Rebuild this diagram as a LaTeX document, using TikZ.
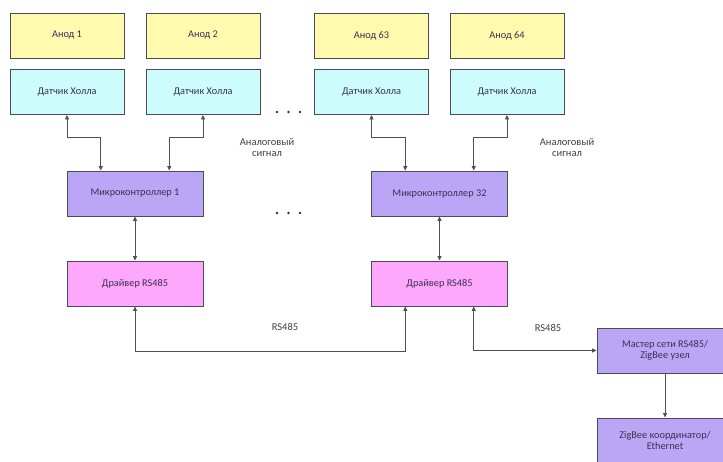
\documentclass[tikz,border=0pt]{standalone}
\usepackage{fontspec}
\setmainfont{Carlito}
\usetikzlibrary{arrows.meta,calc}
\definecolor{anodefill}{HTML}{FFFAAE}
\definecolor{hallfill}{HTML}{CCFCFC}
\definecolor{mcfill}{HTML}{BBA6F6}
\definecolor{drvfill}{HTML}{FDA8FC}
\definecolor{edgecol}{HTML}{4A4A58}
\definecolor{wirecol}{HTML}{505050}
\definecolor{txtcol}{HTML}{3A3050}
\begin{document}
\begin{tikzpicture}[x=1pt,y=-1pt,
  blk/.style={draw=edgecol,line width=0.9pt,minimum width=114pt,minimum height=45pt,
    inner sep=0pt,font=\fontsize{10.3}{11.5}\selectfont,text=txtcol,align=center},
  anode/.style={blk,fill=anodefill},
  hall/.style={blk,fill=hallfill},
  mcu/.style={blk,fill=mcfill,minimum width=136pt},
  drv/.style={blk,fill=drvfill,minimum width=136pt},
  gate/.style={blk,fill=mcfill,minimum width=136pt},
  wire/.style={draw=wirecol,line width=0.8pt},
  tip/.style={-{Triangle[length=4.5pt,width=4pt]}},
  bitip/.style={{Triangle[length=4.5pt,width=4pt]}-{Triangle[length=4.5pt,width=4pt]}},
  note/.style={font=\fontsize{10.5}{11}\selectfont,text=black!75,align=center},
  dotmark/.style={circle,fill=black!80,inner sep=0pt,minimum size=2.8pt}]
\clip (0,0) rectangle (723,462);
\fill[white] (0,0) rectangle (723,462);

% anodes
\node[anode] (a1)  at (67,35.5)    {Анод 1};
\node[anode] (a2)  at (203,35.5)   {Анод 2};
\node[anode] (a63) at (371.5,35.5) {Анод 63};
\node[anode] (a64) at (507,35.5)   {Анод 64};

% Hall sensors
\node[hall] (h1)  at (67,92)    {Датчик Холла};
\node[hall] (h2)  at (203,92)   {Датчик Холла};
\node[hall] (h63) at (371.5,92) {Датчик Холла};
\node[hall] (h64) at (507,92)   {Датчик Холла};

% microcontrollers
\node[mcu] (m1)  at (135,193.5)   {Микроконтроллер 1};
\node[mcu] (m32) at (439.5,193.5) {Микроконтроллер 32};

% RS485 drivers
\node[drv] (d1) at (135,283.5)   {Драйвер RS485};
\node[drv] (d2) at (439.5,283.5) {Драйвер RS485};

% gateway chain
\node[gate] (ms) at (665,350.5) {Мастер сети RS485/\\ZigBee узел};
\node[gate] (zc) at (665,440.5) {ZigBee координатор/\\Ethernet};

% ellipsis marks
\foreach \i/\x in {1/277,2/288.5,3/300}{
  \node[dotmark] (ua\i) at (\x,112) {};
  \node[dotmark] (ub\i) at (\x,213) {};
}

% labels
\node[note] (lab1) at (267,147) {Аналоговый\\сигнал};
\node[note] (lab2) at (567,147) {Аналоговый\\сигнал};
\node[note] (bus1) at (285,327) {RS485};
\node[note] (bus2) at (548,328) {RS485};

% Hall sensor to microcontroller links
\draw[wire,bitip] (h1.south)  -- ++(0,22) -| ($(m1.north west)!0.25!(m1.north east)$);
\draw[wire,bitip] (h2.south)  -- ++(0,22) -| ($(m1.north west)!0.75!(m1.north east)$);
\draw[wire,bitip] (h63.south) -- ++(0,22) -| ($(m32.north west)!0.25!(m32.north east)$);
\draw[wire,bitip] (h64.south) -- ++(0,22) -| ($(m32.north west)!0.75!(m32.north east)$);

% microcontroller to driver
\draw[wire,bitip] (m1.south)  -- (d1.north);
\draw[wire,bitip] (m32.south) -- (d2.north);

% RS485 bus
\draw[wire,bitip] (d1.south) |- (135,351) -| ($(d2.south west)!0.25!(d2.south east)$);
\draw[wire,bitip] ($(d2.south west)!0.75!(d2.south east)$) |- (ms.west);

% master to coordinator
\draw[wire,tip] (ms.south) -- (zc.north);
\end{tikzpicture}
\end{document}
